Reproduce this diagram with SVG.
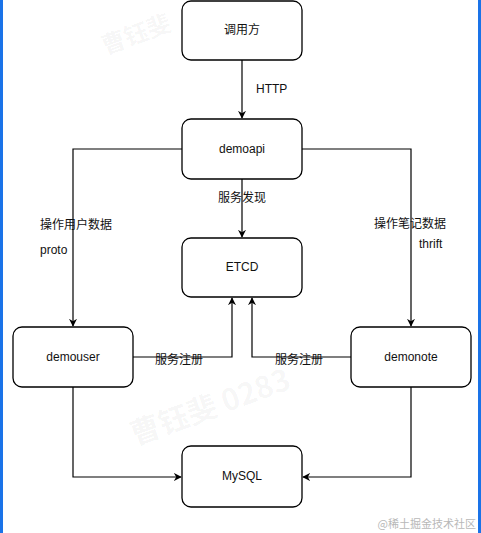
<svg xmlns="http://www.w3.org/2000/svg" width="481" height="533" viewBox="0 0 481 533">
<style>
.node rect{fill:#fff;stroke:#000;stroke-width:1.3}
.node text{font-family:"Liberation Sans",Arial,"Noto Sans CJK SC",sans-serif;font-size:12px;fill:#111;text-anchor:middle;dominant-baseline:central}
.edges path{fill:none;stroke:#000;stroke-width:1.2}
.lbl{font-family:"Liberation Sans",Arial,"Noto Sans CJK SC",sans-serif;font-size:12px;fill:#111}
.wm{font-family:"Noto Sans CJK SC",sans-serif;fill:#000;fill-opacity:0.045;font-weight:bold}
</style>
<defs>
<marker id="arr" viewBox="0 0 10 10" refX="9" refY="5" markerWidth="8" markerHeight="8" orient="auto" markerUnits="userSpaceOnUse">
<path d="M0,0 L10,5 L0,10 L3,5 Z" fill="#000"/>
</marker>
</defs>
<rect width="481" height="533" fill="#fff"/>
<rect x="0" y="0" width="3" height="533" fill="#1a73e8"/>
<rect x="478" y="0" width="3" height="533" fill="#1a73e8"/>
<g class="edges">
<path d="M242,60 V118" marker-end="url(#arr)"/>
<path d="M182,149 H73 V326" marker-end="url(#arr)"/>
<path d="M302,149 H411 V326" marker-end="url(#arr)"/>
<path d="M242,179 V237" marker-end="url(#arr)"/>
<path d="M133,357 H232 V298" marker-end="url(#arr)"/>
<path d="M351,357 H252 V298" marker-end="url(#arr)"/>
<path d="M73,387 V477 H181" marker-end="url(#arr)"/>
<path d="M411,387 V477 H303" marker-end="url(#arr)"/>
</g>
<text class="lbl" x="256" y="93">HTTP</text>
<text class="lbl" x="218" y="202">服务发现</text>
<text class="lbl" x="40" y="229">操作用户数据</text>
<text class="lbl" x="40" y="254">proto</text>
<text class="lbl" x="374" y="228">操作笔记数据</text>
<text class="lbl" x="419" y="248">thrift</text>
<text class="lbl" x="155" y="364">服务注册</text>
<text class="lbl" x="275" y="364">服务注册</text>
<g id="caller" class="node"><rect x="182" y="1" width="120" height="59" rx="9"/><text x="242" y="30">调用方</text></g>
<g id="demoapi" class="node"><rect x="182" y="119" width="120" height="60" rx="9"/><text x="242" y="149">demoapi</text></g>
<g id="etcd" class="node"><rect x="182" y="238" width="120" height="59" rx="9"/><text x="242" y="267">ETCD</text></g>
<g id="demouser" class="node"><rect x="13" y="327" width="120" height="60" rx="9"/><text x="73" y="357">demouser</text></g>
<g id="demonote" class="node"><rect x="351" y="327" width="120" height="60" rx="9"/><text x="411" y="357">demonote</text></g>
<g id="mysql" class="node"><rect x="182" y="446" width="120" height="61" rx="9"/><text x="242" y="476">MySQL</text></g>
<text class="wm" x="100" y="45" font-size="24" transform="rotate(-20 130 35)">曹钰斐</text>
<text class="wm" x="120" y="420" font-size="30" transform="rotate(-20 200 390)">曹钰斐 0283</text>
<text x="476" y="528" text-anchor="end" font-family="Noto Sans CJK SC,sans-serif" font-size="11" fill="#b8b8b8">@稀土掘金技术社区</text>
</svg>
